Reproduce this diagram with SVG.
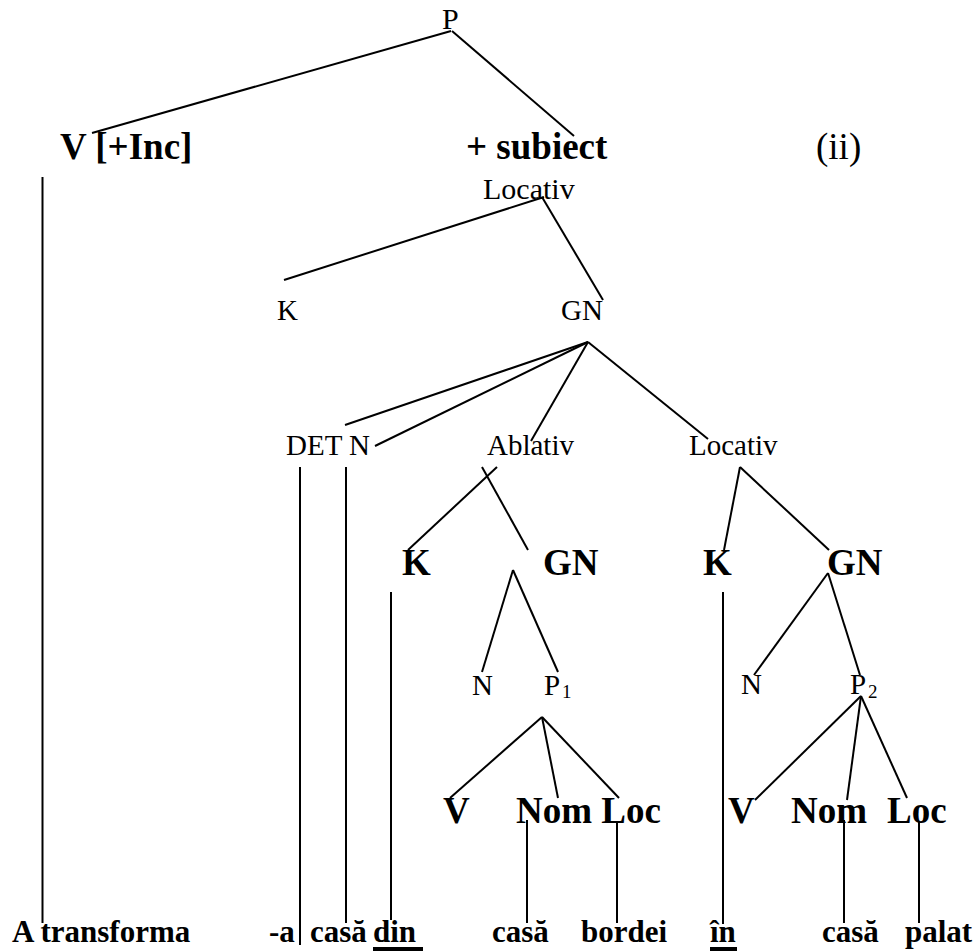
<svg xmlns="http://www.w3.org/2000/svg" width="977" height="952" viewBox="0 0 977 952">
<style>
text{font-family:"Liberation Serif","Times New Roman",serif;fill:#000}
.r{font-size:29px}
.b{font-size:37px;font-weight:bold}
.w{font-size:31px;font-weight:bold}
.s{font-size:19px}
#edges line{stroke:#000;stroke-width:2}
</style>
<rect width="977" height="952" fill="#fff"/>
<g id="edges">
<line x1="451" y1="31" x2="92" y2="133"/>
<line x1="452" y1="31" x2="574" y2="136"/>
<line x1="42.5" y1="177" x2="42.5" y2="923"/>
<line x1="544" y1="197" x2="284" y2="280"/>
<line x1="542" y1="197" x2="603" y2="300"/>
<line x1="588" y1="342" x2="345" y2="425"/>
<line x1="588" y1="342" x2="375" y2="446"/>
<line x1="588" y1="342" x2="531" y2="441"/>
<line x1="588" y1="342" x2="708" y2="439"/>
<line x1="300" y1="467" x2="300" y2="945"/>
<line x1="346" y1="467" x2="346" y2="923"/>
<line x1="497" y1="467" x2="408" y2="550"/>
<line x1="482" y1="467" x2="528" y2="550"/>
<line x1="740" y1="467" x2="724" y2="550"/>
<line x1="740" y1="467" x2="829" y2="550"/>
<line x1="391" y1="592" x2="391" y2="920"/>
<line x1="723" y1="592" x2="723" y2="924"/>
<line x1="513" y1="570" x2="482" y2="672"/>
<line x1="513" y1="570" x2="558" y2="672"/>
<line x1="828" y1="573" x2="754" y2="675"/>
<line x1="828" y1="573" x2="860" y2="675"/>
<line x1="542" y1="717" x2="450" y2="798"/>
<line x1="542" y1="717" x2="558" y2="798"/>
<line x1="542" y1="717" x2="619" y2="798"/>
<line x1="861" y1="696" x2="755" y2="800"/>
<line x1="861" y1="696" x2="847" y2="800"/>
<line x1="861" y1="696" x2="907" y2="798"/>
<line x1="527" y1="820" x2="527" y2="923"/>
<line x1="617" y1="821" x2="617" y2="923"/>
<line x1="844" y1="820" x2="844" y2="923"/>
<line x1="919" y1="821" x2="919" y2="923"/>
</g>
<g id="n-P"><text class="r" style="font-size:30px" x="442" y="29">P</text></g>
<g id="n-V-Inc"><text class="b" x="60" y="159">V [+Inc]</text></g>
<g id="n-subiect"><text class="b" x="466" y="159">+ subiect</text></g>
<g id="n-ii"><text class="b" style="font-weight:normal" x="816" y="159">(ii)</text></g>
<g id="n-Locativ1"><text class="r" style="font-size:30px" x="483" y="199">Locativ</text></g>
<g id="n-K1"><text class="r" x="277" y="320">K</text></g>
<g id="n-GN1"><text class="r" x="561" y="320">GN</text></g>
<g id="n-DETN"><text class="r" x="286" y="455">DET N</text></g>
<g id="n-Ablativ"><text class="r" x="487" y="455">Ablativ</text></g>
<g id="n-Locativ2"><text class="r" x="689" y="455">Locativ</text></g>
<g id="n-K2"><text class="b" x="402" y="575">K</text></g>
<g id="n-GN2"><text class="b" x="543" y="575">GN</text></g>
<g id="n-K3"><text class="b" x="703" y="575">K</text></g>
<g id="n-GN3"><text class="b" x="827" y="575">GN</text></g>
<g id="n-N1"><text class="r" x="472" y="695">N</text></g>
<g id="n-P1"><text class="r" x="544" y="695">P</text><text class="s" x="562" y="698">1</text></g>
<g id="n-N2"><text class="r" x="741" y="694">N</text></g>
<g id="n-P2"><text class="r" x="850" y="694">P</text><text class="s" x="868" y="698">2</text></g>
<g id="n-V1"><text class="b" x="443" y="823">V</text></g>
<g id="n-NomLoc1"><text class="b" x="516" y="823">Nom Loc</text></g>
<g id="n-V2"><text class="b" x="728" y="823">V</text></g>
<g id="n-Nom2"><text class="b" x="791" y="823">Nom</text></g>
<g id="n-Loc2"><text class="b" x="887" y="823">Loc</text></g>
<g id="words">
<text class="w" x="12" y="942">A transforma</text>
<text class="w" x="269" y="942">-a</text>
<text class="w" x="310" y="942">casă</text>
<text class="w" x="373" y="942">din</text>
<rect x="373" y="947" width="50" height="4" fill="#000"/>
<text class="w" x="492" y="942">casă</text>
<text class="w" x="581" y="942">bordei</text>
<text class="w" x="710" y="942">în</text>
<rect x="710" y="947" width="27" height="4" fill="#000"/>
<text class="w" x="822" y="942">casă</text>
<text class="w" x="905" y="942">palat</text>
</g>
</svg>
